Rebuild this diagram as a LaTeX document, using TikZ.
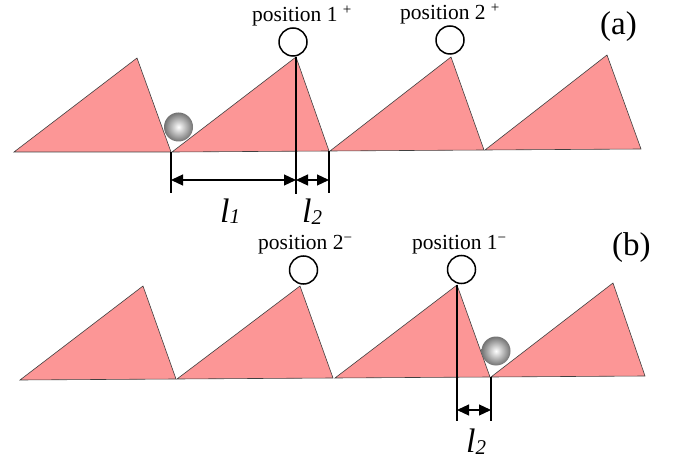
\documentclass[tikz,border=0pt]{standalone}
\usepackage{fontspec}
\setmainfont{Liberation Serif}
\usetikzlibrary{arrows.meta}
\definecolor{pinkfill}{RGB}{252,150,150}
\begin{document}
\begin{tikzpicture}[x=1pt,y=-1pt,
  tooth/.style={fill=pinkfill, draw=black!75, line width=0.6pt, line join=miter},
  marker/.style={circle, draw, line width=1.5pt, minimum size=28pt, inner sep=0pt},
  dimline/.style={line width=1.3pt},
  dimarrow/.style={line width=1.2pt, {Triangle[length=12pt,width=11pt]}-{Triangle[length=12pt,width=11pt]}},
  postext/.style={anchor=base west, font=\fontsize{21.5}{21.5}\selectfont, inner sep=0pt},
  paneltext/.style={anchor=base west, font=\fontsize{33}{33}\selectfont, inner sep=0pt},
  lentext/.style={anchor=base west, font=\fontsize{34}{34}\selectfont\itshape, inner sep=0pt},
  ball/.style={inner color=white, outer color=black!55}
]
\useasboundingbox (0,0) rectangle (677,462);

% ---------------- panel (a) ----------------
\coordinate (a1l) at (14,152);  \coordinate (a1t) at (137,58);  \coordinate (a1r) at (171,152);
\coordinate (a2l) at (172,152); \coordinate (a2t) at (296,57);  \coordinate (a2r) at (329,151);
\coordinate (a3l) at (330,151); \coordinate (a3t) at (451,57);  \coordinate (a3r) at (484,150);
\coordinate (a4l) at (485,150); \coordinate (a4t) at (607,55);  \coordinate (a4r) at (641,149);
\draw[tooth] (a1l) -- (a1t) -- (a1r) -- cycle;
\draw[tooth] (a2l) -- (a2t) -- (a2r) -- cycle;
\draw[tooth] (a3l) -- (a3t) -- (a3r) -- cycle;
\draw[tooth] (a4l) -- (a4t) -- (a4r) -- cycle;

\shade[ball] (178.5,127) circle (14.5);

\node[marker] (c1p) at (293,42) {};
\node[marker] (c2p) at (450,40) {};
\node[postext] (t1p) at (252,22) {position 1 \textsuperscript{+}};
\node[postext] (t2p) at (400,20) {position 2 \textsuperscript{+}};
\node[paneltext] (pa) at (600,35) {(a)};

\coordinate (a1b) at (171,193);
\coordinate (a2b) at (296,194);
\coordinate (a3b) at (329,193);
\draw[dimline] (a1r) -- (a1b);
\draw[dimline] (a2t) -- (a2b);
\draw[dimline] (a2r) -- (a3b);
\coordinate (d1) at (171,180); \coordinate (d2) at (296,180); \coordinate (d3) at (329,180);
\draw[dimarrow] (d1) -- (d2);
\draw[dimarrow] (d2) -- (d3);
\node[lentext] (l1) at (220,223) {l\raisebox{-1pt}{\fontsize{21}{21}\selectfont 1}};
\node[lentext] (l2a) at (302,223) {l\raisebox{-2pt}{\fontsize{21}{21}\selectfont 2}};

% ---------------- panel (b) ----------------
\coordinate (b1l) at (20,380);  \coordinate (b1t) at (143,286); \coordinate (b1r) at (176,379);
\coordinate (b2l) at (177,379); \coordinate (b2t) at (300,286); \coordinate (b2r) at (333,378);
\coordinate (b3l) at (335,378); \coordinate (b3t) at (457,285); \coordinate (b3r) at (490,377);
\coordinate (b4l) at (491,377); \coordinate (b4t) at (613,283); \coordinate (b4r) at (645,376);
\draw[tooth] (b1l) -- (b1t) -- (b1r) -- cycle;
\draw[tooth] (b2l) -- (b2t) -- (b2r) -- cycle;
\draw[tooth] (b3l) -- (b3t) -- (b3r) -- cycle;
\draw[tooth] (b4l) -- (b4t) -- (b4r) -- cycle;

\shade[ball] (496,351) circle (14.5);

\node[marker] (c2m) at (303.5,270) {};
\node[marker] (c1m) at (461.5,269.5) {};
\node[postext] (t2m) at (258,250) {position 2\textsuperscript{−}};
\node[postext] (t1m) at (412,250) {position 1\textsuperscript{−}};
\node[paneltext] (pb) at (612,256) {(b)};

\coordinate (b3b) at (457,421);
\coordinate (b4b) at (491,421);
\draw[dimline] (b3t) -- (b3b);
\draw[dimline] (b4l) -- (b4b);
\coordinate (e1) at (457,410); \coordinate (e2) at (491,410);
\draw[dimarrow] (e1) -- (e2);
\node[lentext] (l2b) at (466,452) {l\raisebox{-2pt}{\fontsize{21}{21}\selectfont 2}};
\end{tikzpicture}
\end{document}
